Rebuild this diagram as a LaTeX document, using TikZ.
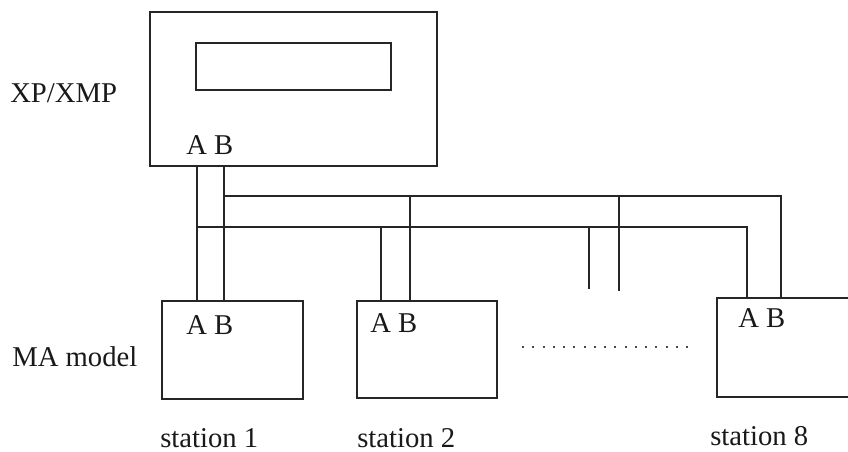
\documentclass[tikz,border=0pt]{standalone}
\usepackage{fontspec}
\setmainfont{Liberation Serif}
\begin{document}
\begin{tikzpicture}[x=0.75pt,y=-0.75pt,
  box/.style={draw=black!85,line width=1.5pt,inner sep=0pt,outer sep=0pt,anchor=north west},
  wire/.style={draw=black!85,line width=1.5pt},
  lbl/.style={inner sep=0pt,anchor=base west,font=\fontsize{21.5}{24}\selectfont,text=black!90},
  dots/.style={draw=black!70,line width=1.5pt,dash pattern=on 1.5pt off 6.2pt}]
\useasboundingbox (0,0) rectangle (848,452);
\clip (0,0) rectangle (848,452);
\fill[white] (0,0) rectangle (848,452);
% boxes
\node[box,minimum width=287*0.75pt,minimum height=154*0.75pt] (xp) at (150,12) {};
\node[box,minimum width=195*0.75pt,minimum height=47*0.75pt] (disp) at (196,43) {};
\node[box,minimum width=141*0.75pt,minimum height=98*0.75pt] (s1) at (162,301) {};
\node[box,minimum width=140*0.75pt,minimum height=97*0.75pt] (s2) at (357,301) {};
\node[box,minimum width=140*0.75pt,minimum height=99*0.75pt] (s8) at (717,298) {};
% labels
\node[lbl] (lxp) at (10,103) {XP/XMP};
\node[lbl] (lma) at (12,366) {MA model};
\node[lbl] (ls1) at (160,447) {station 1};
\node[lbl] (ls2) at (357,447) {station 2};
\node[lbl] (ls8) at (710,445) {station 8};
\node[lbl] (abxp) at (186,155) {A B};
\node[lbl] (ab1) at (186,334) {A B};
\node[lbl] (ab2) at (370,332) {A B};
\node[lbl] (ab8) at (738,327) {A B};
% bus coordinates
\coordinate (xa) at (197,166);
\coordinate (xb) at (224,166);
\coordinate (s1a) at (197,301);
\coordinate (s1b) at (224,301);
\coordinate (bA) at (197,227);
\coordinate (bB) at (224,196);
\coordinate (s2a) at (381,301);
\coordinate (s2b) at (410,301);
\coordinate (s2ja) at (381,227);
\coordinate (s2jb) at (410,196);
\coordinate (sta) at (589,227);
\coordinate (stb) at (619,196);
\coordinate (sta2) at (589,289);
\coordinate (stb2) at (619,291);
\coordinate (s8a) at (747,298);
\coordinate (s8b) at (781,298);
\coordinate (cA) at (747,227);
\coordinate (cB) at (781,196);
% wires
\draw[wire] (xa) -- (s1a);
\draw[wire] (xb) -- (s1b);
\draw[wire] (bA) -- (cA) -- (s8a);
\draw[wire] (bB) -- (cB) -- (s8b);
\draw[wire] (s2ja) -- (s2a);
\draw[wire] (s2jb) -- (s2b);
\draw[wire] (sta) -- (sta2);
\draw[wire] (stb) -- (stb2);
% dotted ellipsis
\coordinate (d1) at (522,347);
\coordinate (d2) at (693,347);
\draw[dots] (d1) -- (d2);
\end{tikzpicture}
\end{document}
